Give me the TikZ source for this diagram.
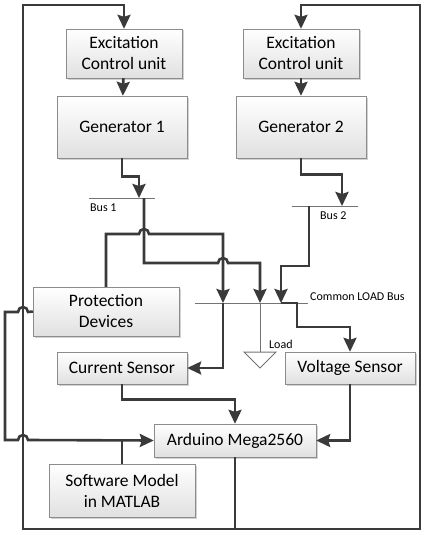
\documentclass[tikz,border=0pt]{standalone}
\usepackage{fontspec}
\setmainfont{Carlito}
\usetikzlibrary{arrows.meta,shadows}
\definecolor{wirec}{HTML}{3A3A3A}
\tikzset{
    %Define standard arrow tip
    >={Stealth[length=14pt,width=13pt,inset=2pt]},
    %Define style for boxes
    unit/.style={
           rectangle,
           draw=black!45, thin,
           top color=white,
           bottom color=black!12,
           drop shadow={shadow xshift=1.5pt,shadow yshift=-1.5pt,fill=black!35,opacity=.5},
           font=\fontsize{17.5}{21}\selectfont,
           align=center,
           inner sep=2pt},
    % Define line styles
    wire/.style={draw=wirec, line width=2.6pt},
    pil/.style={wire, ->},
    bus/.style={draw=black!55, line width=1pt},
    lbl/.style={font=\fontsize{12}{14}\selectfont, inner sep=0pt}
}

\begin{document}
\begin{tikzpicture}[x=1pt,y=-1pt]
\useasboundingbox (0,0) rectangle (428,535);

 %nodes
\node[unit, minimum width=116pt, minimum height=49pt](exc1) at (124,53.5){Excitation\\Control unit};
\node[unit, minimum width=116pt, minimum height=49pt](exc2) at (301,53.5){Excitation\\Control unit};
\node[unit, minimum width=130pt, minimum height=62pt](gen1) at (122,127){Generator 1};
\node[unit, minimum width=130pt, minimum height=62pt](gen2) at (301,127){Generator 2};
\node[unit, minimum width=146pt, minimum height=49pt](prot) at (106,311.5){Protection\\Devices};
\node[unit, minimum width=130pt, minimum height=32pt](cur) at (122,368){Current Sensor};
\node[unit, minimum width=130pt, minimum height=32pt](volt) at (350,368){Voltage Sensor};
\node[unit, minimum width=162pt, minimum height=33pt](ard) at (235,440.5){Arduino Mega2560};
\node[unit, minimum width=146pt, minimum height=53pt](soft) at (122,490.5){Software Model\\in MATLAB};

 %corners and bus points
\coordinate (tl) at (23,5);
\coordinate (tr) at (420,5);
\coordinate (bl) at (23,529);
\coordinate (br) at (420,529);
\coordinate (b1in) at (139,198);
\coordinate (b1out) at (144,198);
\coordinate (b2in) at (342,206);
\coordinate (b2out) at (309,206);
\coordinate (cpA) at (223,303);
\coordinate (cpB) at (260,303);
\coordinate (cpC) at (281,303);

 %buses and load
\draw[bus] (89,198) -- (155,198);
\draw[bus] (292,206) -- (358,206);
\draw[bus] (195,303) -- (308,303);
\draw[bus] (cpB) -- (260,352);
\draw[bus] (244,352) -- (276,352) -- (260,368) -- cycle;

 %labels
\node[lbl, anchor=west](lbus1) at (90,208){Bus 1};
\node[lbl, anchor=west](lbus2) at (320,216){Bus 2};
\node[lbl, anchor=west](lcom) at (310,297){Common LOAD Bus};
\node[lbl, anchor=west](lload) at (269,344){Load};

 %feedback loop
\draw[pil] (ard.south) -- (ard.south |- bl) -- (bl) -- (tl) -- (exc1.north |- tl) -- (exc1.north);
\draw[pil] (ard.south |- br) -- (br) -- (tr) -- (exc2.north |- tr) -- (exc2.north);
\draw[pil] (exc1) -- (gen1);
\draw[pil] (exc2) -- (gen2);

 %generators to buses
\draw[pil] (gen1.south) -- ++(0,18) -| (b1in);
\draw[pil] (gen2.south) -- ++(0,16) -| (b2in);

 %to common bus
\draw[pil] (b1out) -- (144,263) -- (218,263) arc[start angle=180,end angle=0,radius=5pt] -- (260,263) -- (cpB);
\draw[pil] (prot.north) -- (prot.north |- 0,234) -- (139,234) arc[start angle=180,end angle=0,radius=5pt] -- (223,234) -- (cpA);
\draw[pil] (b2out) -- (309,266) -- (281,266) -- (cpC);

 %sensors
\draw[pil] (cpA) |- (cur.east);
\draw[pil] (cpC) -- (297,303) -- (297,327) -| (volt.north);
\draw[pil] (cur.south) -- ++(0,15) -| (ard.north);
\draw[pil] (volt.south) |- (ard.east);
\draw[pil] (prot.west) -- (28,312) arc[start angle=0,end angle=180,radius=5pt] -- (5,312) -- (5,440) -- (18,440) arc[start angle=180,end angle=0,radius=5pt] -- (ard.west);
\draw[wire] (soft.north) -- (soft.north |- ard.west);

\end{tikzpicture}
\end{document}
